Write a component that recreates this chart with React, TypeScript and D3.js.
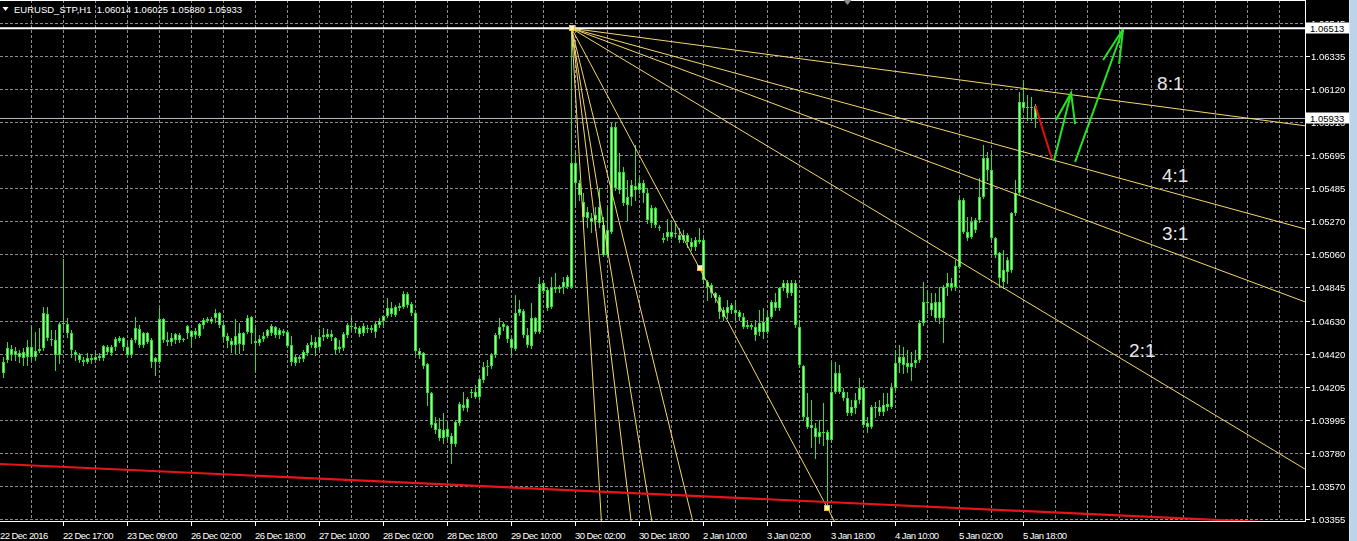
import React from "react";
import * as d3 from "d3";

// ---------- data ----------
const symbolTitle = "EURUSD_STP,H1";

const priceTicks = [
  1.06545, 1.06335, 1.0612, 1.0591, 1.05695, 1.05485, 1.0527, 1.0506,
  1.04845, 1.0463, 1.0442, 1.04205, 1.03995, 1.0378, 1.0357, 1.03355,
];

const timeLabels = [
  "22 Dec 2016", "22 Dec 17:00", "23 Dec 09:00", "26 Dec 02:00", "26 Dec 18:00",
  "27 Dec 10:00", "28 Dec 02:00", "28 Dec 18:00", "29 Dec 10:00", "30 Dec 02:00",
  "30 Dec 18:00", "2 Jan 10:00", "3 Jan 02:00", "3 Jan 18:00", "4 Jan 10:00",
  "5 Jan 02:00", "5 Jan 18:00",
];

// hourly bars: [open, high, low, close]
const bars: number[][] = [
  [1.04292, 1.04399, 1.04271, 1.04367], [1.04378, 1.04496, 1.04367, 1.04453],
  [1.04447, 1.04475, 1.04378, 1.0441], [1.04436, 1.04464, 1.04378, 1.0441],
  [1.04395, 1.04442, 1.04367, 1.04425], [1.04431, 1.04453, 1.04346, 1.04389],
  [1.04395, 1.04507, 1.04346, 1.04464], [1.04464, 1.04603, 1.04378, 1.04399],
  [1.04399, 1.0456, 1.04378, 1.04436], [1.04438, 1.04582, 1.04431, 1.04447],
  [1.04453, 1.04721, 1.04442, 1.04679], [1.04672, 1.04721, 1.04507, 1.04518],
  [1.04511, 1.04571, 1.04475, 1.04507], [1.04507, 1.04571, 1.04314, 1.0441],
  [1.0441, 1.04624, 1.04357, 1.0461], [1.0461, 1.05026, 1.04571, 1.04618],
  [1.0461, 1.04646, 1.04528, 1.0455], [1.0455, 1.04571, 1.04399, 1.04442],
  [1.04431, 1.04442, 1.04378, 1.0441], [1.0441, 1.04421, 1.04367, 1.04378],
  [1.04378, 1.04399, 1.04346, 1.04367], [1.04367, 1.04421, 1.04357, 1.04389],
  [1.04378, 1.0441, 1.04357, 1.04389], [1.04378, 1.04421, 1.04367, 1.04399],
  [1.04389, 1.04421, 1.04378, 1.04404], [1.04389, 1.04475, 1.04378, 1.04468],
  [1.04464, 1.04475, 1.04421, 1.04431], [1.04421, 1.04475, 1.0441, 1.04464],
  [1.04464, 1.04524, 1.04442, 1.04511], [1.04502, 1.04532, 1.04496, 1.04518],
  [1.04518, 1.04528, 1.04442, 1.0446], [1.04464, 1.04485, 1.04399, 1.0441],
  [1.0441, 1.04518, 1.04399, 1.04507], [1.04507, 1.04657, 1.04496, 1.04582],
  [1.04576, 1.04603, 1.04464, 1.04475], [1.04475, 1.0456, 1.04464, 1.0455],
  [1.0455, 1.0456, 1.04485, 1.04496], [1.04507, 1.04518, 1.04335, 1.04367],
  [1.04367, 1.04399, 1.04282, 1.04389], [1.04367, 1.04711, 1.04357, 1.0464],
  [1.0464, 1.04646, 1.04496, 1.04507], [1.04507, 1.0456, 1.04475, 1.04496],
  [1.04496, 1.0455, 1.04475, 1.04518], [1.04507, 1.0455, 1.04485, 1.04545],
  [1.04539, 1.0455, 1.04496, 1.04507], [1.04507, 1.0452, 1.045, 1.04511],
  [1.0455, 1.04603, 1.04518, 1.04597], [1.04565, 1.04571, 1.04464, 1.04528],
  [1.04539, 1.04582, 1.04518, 1.04567], [1.04532, 1.04618, 1.04524, 1.0461],
  [1.04603, 1.04646, 1.04582, 1.04635], [1.04631, 1.04657, 1.04624, 1.0464],
  [1.0464, 1.04657, 1.04614, 1.04624], [1.04646, 1.04704, 1.04624, 1.04679],
  [1.04679, 1.04689, 1.04592, 1.04603], [1.04603, 1.04614, 1.04507, 1.04524],
  [1.04532, 1.0455, 1.04464, 1.04502], [1.04502, 1.04518, 1.04431, 1.04475],
  [1.04475, 1.0464, 1.04421, 1.04532], [1.0455, 1.04614, 1.04421, 1.04481],
  [1.04475, 1.0456, 1.04442, 1.0455], [1.0456, 1.04668, 1.0455, 1.04646],
  [1.04653, 1.04661, 1.04485, 1.04554], [1.04502, 1.04582, 1.04303, 1.04485],
  [1.04485, 1.04539, 1.04475, 1.04511], [1.04511, 1.0456, 1.04502, 1.04532],
  [1.04532, 1.04576, 1.04524, 1.04571], [1.0455, 1.0461, 1.04539, 1.04597],
  [1.04588, 1.04597, 1.04524, 1.04539], [1.04539, 1.04582, 1.04518, 1.04571],
  [1.04567, 1.04576, 1.04539, 1.04554], [1.0456, 1.04571, 1.04464, 1.04468],
  [1.04475, 1.04532, 1.04346, 1.04367], [1.0436, 1.0441, 1.04346, 1.04395],
  [1.04395, 1.0441, 1.04367, 1.04382], [1.04382, 1.04442, 1.04373, 1.04431],
  [1.04421, 1.04485, 1.0441, 1.04475], [1.04475, 1.04539, 1.04464, 1.04496],
  [1.04496, 1.04528, 1.0441, 1.04453], [1.0446, 1.04576, 1.04442, 1.04528],
  [1.04524, 1.04582, 1.04507, 1.04539], [1.04543, 1.04576, 1.04518, 1.04528],
  [1.04528, 1.04571, 1.04507, 1.04543], [1.04518, 1.04528, 1.04421, 1.04442],
  [1.04447, 1.04507, 1.04431, 1.04464], [1.04453, 1.0456, 1.04442, 1.04543],
  [1.04539, 1.04614, 1.04528, 1.04603], [1.04597, 1.04661, 1.04571, 1.04588],
  [1.04588, 1.04614, 1.0456, 1.04576], [1.04584, 1.04597, 1.04532, 1.04545],
  [1.0455, 1.04614, 1.04539, 1.04597], [1.04586, 1.04603, 1.0456, 1.04576],
  [1.04571, 1.04603, 1.0456, 1.04586], [1.0456, 1.04624, 1.04528, 1.0461],
  [1.04603, 1.04646, 1.04592, 1.04631], [1.04631, 1.04668, 1.04588, 1.04661],
  [1.04661, 1.04775, 1.04653, 1.04711], [1.04711, 1.04753, 1.04661, 1.04674],
  [1.04668, 1.04732, 1.04661, 1.04717], [1.04711, 1.04743, 1.047, 1.04726],
  [1.04721, 1.04824, 1.04711, 1.04803], [1.04803, 1.04818, 1.04721, 1.04732],
  [1.04738, 1.04753, 1.04668, 1.04682], [1.04682, 1.04689, 1.04421, 1.04438],
  [1.04438, 1.04453, 1.04389, 1.0441], [1.04425, 1.04431, 1.04325, 1.04339],
  [1.04352, 1.0436, 1.04088, 1.04164], [1.04164, 1.04174, 1.03949, 1.0396],
  [1.03971, 1.04013, 1.03906, 1.03927], [1.03932, 1.04003, 1.03863, 1.03874],
  [1.03874, 1.04035, 1.03842, 1.03927], [1.03932, 1.03981, 1.03863, 1.03884],
  [1.03889, 1.03906, 1.03713, 1.03837], [1.03837, 1.03992, 1.03824, 1.03981],
  [1.03975, 1.0411, 1.0396, 1.04095], [1.04088, 1.04174, 1.04056, 1.04067],
  [1.04067, 1.04142, 1.04052, 1.04125], [1.04168, 1.04189, 1.04142, 1.04174],
  [1.04174, 1.04217, 1.04132, 1.04142], [1.04142, 1.04271, 1.04125, 1.04254],
  [1.04249, 1.04367, 1.04238, 1.04331], [1.04331, 1.04378, 1.04282, 1.04339],
  [1.04339, 1.04421, 1.04325, 1.0441], [1.0441, 1.0455, 1.04399, 1.04539],
  [1.04539, 1.04646, 1.04518, 1.04592], [1.04588, 1.04624, 1.04571, 1.0461],
  [1.04597, 1.04603, 1.04496, 1.04511], [1.04511, 1.04528, 1.04421, 1.04453],
  [1.04447, 1.04796, 1.04442, 1.04682], [1.04682, 1.04764, 1.04668, 1.04704],
  [1.04695, 1.04704, 1.04528, 1.04539], [1.04539, 1.04582, 1.04464, 1.04475],
  [1.04468, 1.04743, 1.04453, 1.04646], [1.04646, 1.04653, 1.0455, 1.0456],
  [1.0456, 1.04914, 1.0455, 1.04867], [1.04872, 1.04893, 1.04807, 1.04824],
  [1.04829, 1.0485, 1.047, 1.04711], [1.04721, 1.04914, 1.04711, 1.0485],
  [1.0485, 1.04936, 1.04818, 1.04833], [1.04833, 1.04861, 1.04818, 1.0485],
  [1.0485, 1.04914, 1.04809, 1.04882], [1.04914, 1.04925, 1.04841, 1.0485],
  [1.0485, 1.06513, 1.04841, 1.05646], [1.05646, 1.05717, 1.05363, 1.05517],
  [1.05517, 1.05537, 1.05408, 1.0544], [1.05395, 1.05453, 1.0526, 1.05298],
  [1.05331, 1.05363, 1.05234, 1.05292], [1.05292, 1.05324, 1.05202, 1.05266],
  [1.05279, 1.05363, 1.05215, 1.05311], [1.05363, 1.05485, 1.05234, 1.0526],
  [1.05247, 1.05298, 1.05047, 1.05054], [1.05054, 1.05363, 1.05047, 1.05215],
  [1.05202, 1.05903, 1.05195, 1.05878], [1.05878, 1.0591, 1.05472, 1.05485],
  [1.05472, 1.0571, 1.05453, 1.05588], [1.05588, 1.0562, 1.05376, 1.05388],
  [1.05376, 1.05537, 1.05279, 1.05427], [1.05427, 1.05537, 1.05376, 1.05504],
  [1.05498, 1.05762, 1.05408, 1.05472], [1.05472, 1.05556, 1.05453, 1.05517],
  [1.05517, 1.05537, 1.05395, 1.05453], [1.05453, 1.05485, 1.0526, 1.05279],
  [1.0526, 1.05376, 1.05234, 1.05356], [1.05356, 1.05363, 1.05234, 1.05247],
  [1.05234, 1.05247, 1.05215, 1.05228], [1.05163, 1.05195, 1.05137, 1.0515],
  [1.0517, 1.05285, 1.0515, 1.05202], [1.05202, 1.05279, 1.05163, 1.0517],
  [1.05189, 1.0526, 1.0517, 1.05195], [1.05183, 1.05228, 1.05137, 1.0515],
  [1.0515, 1.05215, 1.05137, 1.05183], [1.05183, 1.05195, 1.05105, 1.05137],
  [1.05137, 1.05163, 1.05086, 1.05105], [1.05105, 1.0517, 1.05086, 1.0515],
  [1.05137, 1.05228, 1.05131, 1.0515], [1.0515, 1.0517, 1.04874, 1.04893],
  [1.0488, 1.04893, 1.04764, 1.04848], [1.04861, 1.04874, 1.04784, 1.04809],
  [1.04809, 1.04816, 1.04751, 1.04777], [1.04784, 1.04796, 1.04648, 1.04687],
  [1.047, 1.04719, 1.04635, 1.04655], [1.0468, 1.04764, 1.04648, 1.04719],
  [1.047, 1.04745, 1.0468, 1.04732], [1.047, 1.04764, 1.04635, 1.0468],
  [1.04687, 1.047, 1.04635, 1.04655], [1.04655, 1.0468, 1.04584, 1.0459],
  [1.04603, 1.04635, 1.04584, 1.0459], [1.0459, 1.04616, 1.04578, 1.04603],
  [1.0459, 1.04635, 1.04507, 1.04539], [1.04558, 1.047, 1.04539, 1.04616],
  [1.04623, 1.04713, 1.0452, 1.04558], [1.04558, 1.047, 1.04552, 1.04655],
  [1.04655, 1.04764, 1.04648, 1.04751], [1.04751, 1.04809, 1.047, 1.04713],
  [1.04713, 1.04848, 1.047, 1.04841], [1.04841, 1.04893, 1.04829, 1.04874],
  [1.04874, 1.04893, 1.04784, 1.04809], [1.04809, 1.04893, 1.04796, 1.04874],
  [1.04874, 1.04893, 1.0459, 1.04603], [1.0459, 1.04635, 1.04333, 1.04346],
  [1.04339, 1.04346, 1.03992, 1.04011], [1.04011, 1.04166, 1.0394, 1.03947],
  [1.0396, 1.04121, 1.03818, 1.0394], [1.0394, 1.03973, 1.03747, 1.03882],
  [1.03882, 1.03992, 1.03844, 1.03915], [1.03908, 1.04101, 1.03831, 1.03915],
  [1.03915, 1.03927, 1.03419, 1.03863], [1.03863, 1.04365, 1.0385, 1.04172],
  [1.04172, 1.04365, 1.04166, 1.04294], [1.04294, 1.04346, 1.04166, 1.04172],
  [1.04172, 1.04198, 1.04121, 1.04134], [1.04134, 1.04172, 1.04024, 1.04037],
  [1.04037, 1.04121, 1.04024, 1.04075], [1.04069, 1.04166, 1.04037, 1.04121],
  [1.04121, 1.04262, 1.04101, 1.04198], [1.04198, 1.04204, 1.03947, 1.0396],
  [1.03947, 1.04011, 1.03915, 1.03973], [1.03947, 1.04088, 1.0394, 1.04075],
  [1.04069, 1.04108, 1.04011, 1.04075], [1.04075, 1.04121, 1.04024, 1.04043],
  [1.04043, 1.04166, 1.04024, 1.04088], [1.04075, 1.04166, 1.04056, 1.04095],
  [1.04075, 1.0423, 1.04069, 1.04198], [1.04198, 1.04442, 1.04185, 1.04359],
  [1.04359, 1.04475, 1.04301, 1.04397], [1.04397, 1.04462, 1.04294, 1.04346],
  [1.04359, 1.04442, 1.04301, 1.04333], [1.04333, 1.04429, 1.04249, 1.04359],
  [1.04359, 1.04442, 1.04333, 1.04378], [1.04378, 1.04635, 1.04365, 1.04616],
  [1.04616, 1.0488, 1.04603, 1.04751], [1.04751, 1.04829, 1.0468, 1.04745],
  [1.04745, 1.04809, 1.04668, 1.047], [1.04648, 1.04809, 1.04635, 1.04751],
  [1.04751, 1.04848, 1.04616, 1.04648], [1.04648, 1.04861, 1.04494, 1.04848],
  [1.04848, 1.04938, 1.04796, 1.04874], [1.04874, 1.04906, 1.04829, 1.04848],
  [1.04848, 1.05021, 1.04829, 1.04983], [1.04977, 1.05421, 1.0497, 1.05408],
  [1.05408, 1.05421, 1.05195, 1.05202], [1.05202, 1.05298, 1.0515, 1.05163],
  [1.0517, 1.05298, 1.05163, 1.05266], [1.05215, 1.05292, 1.05202, 1.05279],
  [1.05279, 1.05549, 1.05266, 1.05427], [1.05427, 1.05762, 1.05421, 1.05678],
  [1.05678, 1.05717, 1.05537, 1.05601], [1.05601, 1.0571, 1.0515, 1.05163],
  [1.05163, 1.0517, 1.05041, 1.05054], [1.05067, 1.05073, 1.04848, 1.04906],
  [1.0488, 1.05086, 1.04841, 1.04957], [1.04944, 1.05041, 1.04874, 1.05021],
  [1.04957, 1.05331, 1.04944, 1.05324], [1.05324, 1.05537, 1.05311, 1.05453],
  [1.05453, 1.06103, 1.0544, 1.06039], [1.06039, 1.0618, 1.05987, 1.06],
  [1.06, 1.06084, 1.05923, 1.06006], [1.06006, 1.06071, 1.05923, 1.06],
  [1.06014, 1.06025, 1.0588, 1.05933],
];

const highLinePrice = 1.06513;

// Gann fan: origin and 1x1 anchors (bar index, price), fan slopes (price per bar)
const fanAnchors: number[][] = [[142, 1.06513], [174, 1.04969], [206, 1.03425]];
const fanSlopes = [3.42e-5, 7.04e-5, 9.6e-5, 1.547e-4, 4.825e-4, 1.0465e-3, 1.579e-3, 2.128e-3, 4.241e-3];
const fanLabels = ["8:1", "4:1", "3:1", "2:1"];
const fanLabelBars = [288.4, 289.6, 289.6, 281.4];
const fanLabelPrices = [1.06116, 1.05524, 1.05151, 1.04398];

// red support trend line (bar, price)
const redTrend: number[][] = [[0, 1.03708], [240, 1.03424]];

// hand drawn projection strokes (bar, price)
const redStroke: number[][] = [[258, 1.06014], [262.1, 1.05672]];
const greenStrokes: number[][][] = [
  [[262.6, 1.05659], [266.9, 1.06097]],
  [[263.1, 1.05923], [266.9, 1.06097], [267.9, 1.05897]],
  [[267.9, 1.05653], [279.9, 1.06509]],
  [[274.9, 1.06309], [279.9, 1.06509], [278.9, 1.06284]],
];

const shiftMarkerBar = 211;

// ---------- component ----------
export default function App() {
  const W = 1357;
  const H = 541;
  const plotR = 1305;
  const axisY = 521.5;

  const x = d3.scaleLinear().domain([0, bars.length - 1]).range([3.5, 3.5 + 4 * (bars.length - 1)]);
  const y = d3.scaleLinear().domain([1.03355, 1.06335]).range([519, 56]);

  const gridColor = "#8a8a92";
  const wick = "#30e030";
  const bodyFill = "#a4f7a0";
  const fanColor = "#f4d66e";
  const font = "'Liberation Sans', Arial, sans-serif";

  const vGrid: number[] = [];
  for (let i = 7; x(i) < plotR; i += 8) vGrid.push(x(i));

  const line = d3.line<number[]>().x((d) => x(d[0])).y((d) => y(d[1]));

  const [fx, fp] = fanAnchors[0];
  const last = bars[bars.length - 1];
  const title = `${symbolTitle}  ${last.map((v) => v.toFixed(5)).join(" ")}`;

  const rSlope = (redTrend[1][1] - redTrend[0][1]) / (redTrend[1][0] - redTrend[0][0]);
  const redExt = [
    [-2, redTrend[0][1] + rSlope * -2],
    [420, redTrend[0][1] + rSlope * 420],
  ];

  const lastPrice = last[3];
  const boxPrices = [highLinePrice, lastPrice];

  return (
    <svg
      width={W}
      height={H}
      style={{ position: "fixed", left: 0, top: 0, display: "block", background: "#000" }}
    >
      <defs>
        <clipPath id="plot">
          <rect x={0} y={0} width={plotR} height={521} />
        </clipPath>
        <mask id="boxMask">
          <rect x={0} y={0} width={W} height={H} fill="#fff" />
          {boxPrices.map((p, i) => (
            <rect key={i} x={1306} y={Math.round(y(p)) - 5.5} width={43} height={11} fill="#000" />
          ))}
        </mask>
      </defs>
      <rect x={0} y={0} width={W} height={H} fill="#000" />

      {/* grid */}
      <g stroke={gridColor} strokeWidth={1} strokeDasharray="3,2" shapeRendering="crispEdges">
        {vGrid.map((gx, i) => (
          <line key={"v" + i} x1={gx} x2={gx} y1={0} y2={520} />
        ))}
        {priceTicks.map((p, i) => (
          <line key={"h" + i} x1={0} x2={plotR} y1={Math.round(y(p)) + 0.5} y2={Math.round(y(p)) + 0.5} />
        ))}
      </g>

      {/* price lines */}
      <line x1={0} x2={plotR} y1={y(lastPrice)} y2={y(lastPrice)} stroke="#b8b8c0" strokeWidth={1} />
      <line x1={0} x2={plotR} y1={y(highLinePrice)} y2={y(highLinePrice)} stroke="#ffffff" strokeWidth={2} />

      {/* candles */}
      <g clipPath="url(#plot)" shapeRendering="crispEdges">
        {bars.map((b, i) => {
          const [o, h, l, c] = b;
          const cx = x(i);
          const top = Math.round(Math.min(y(o), y(c)));
          const bot = Math.round(Math.max(y(o), y(c)));
          return (
            <g key={i}>
              <line x1={cx} x2={cx} y1={Math.round(y(h))} y2={Math.round(y(l)) + 1} stroke={wick} />
              {bot - top >= 2 ? (
                <rect x={cx - 1} y={top + 0.5} width={2} height={bot - top - 1} fill={bodyFill} stroke={wick} />
              ) : (
                <line x1={cx - 1.5} x2={cx + 1.5} y1={top + 0.5} y2={top + 0.5} stroke={wick} />
              )}
            </g>
          );
        })}
      </g>

      {/* Gann fan */}
      <g clipPath="url(#plot)" stroke={fanColor} strokeWidth={1} fill="none">
        {fanSlopes.map((s, i) => (
          <path key={i} d={line([[fx, fp], [fx + 400, fp - s * 400]]) || ""} />
        ))}
      </g>

      {/* red support line */}
      <g clipPath="url(#plot)">
        <path d={line(redExt) || ""} stroke="#e8141a" strokeWidth={2.2} fill="none" />
      </g>

      {/* anchor markers */}
      {fanAnchors.map((a, i) => (
        <rect
          key={i}
          x={Math.round(x(a[0])) - 2.5}
          y={Math.round(y(a[1])) - 2.5}
          width={5}
          height={5}
          fill="#fff6b8"
          stroke="#e8c04a"
          strokeWidth={1}
        />
      ))}

      {/* projection strokes */}
      <path d={line(redStroke) || ""} stroke="#e01010" strokeWidth={2} fill="none" />
      {greenStrokes.map((s, i) => (
        <path key={i} d={line(s) || ""} stroke="#22e622" strokeWidth={2} fill="none" strokeLinejoin="miter" />
      ))}

      {/* fan labels */}
      {fanLabels.map((t, i) => (
        <text
          key={t}
          x={x(fanLabelBars[i])}
          y={y(fanLabelPrices[i])}
          fill="#e6e6e6"
          fontFamily={font}
          fontSize={19}
        >
          {t}
        </text>
      ))}

      {/* frame */}
      <g stroke="#ffffff" strokeWidth={1} shapeRendering="crispEdges">
        <line x1={0} x2={plotR + 0.5} y1={0.5} y2={0.5} />
        <line x1={plotR + 0.5} x2={plotR + 0.5} y1={0} y2={axisY} />
        <line x1={0} x2={plotR + 0.5} y1={axisY} y2={axisY} />
      </g>

      {/* shift marker */}
      <path
        d={`M${x(shiftMarkerBar) - 4},0 L${x(shiftMarkerBar) + 4},0 L${x(shiftMarkerBar)},5 Z`}
        fill="#8a8a8a"
      />

      {/* title */}
      <path d="M2.5,7 L8.5,7 L5.5,11 Z" fill="#ffffff" />
      <text x={14} y={13} fill="#ffffff" fontFamily={font} fontSize={9.5} style={{ whiteSpace: "pre" }}>
        {title}
      </text>

      {/* price axis */}
      <g fontFamily={font} fontSize={9.5}>
        <g mask="url(#boxMask)">
          {priceTicks.map((p, i) => {
            const py = Math.round(y(p)) + 0.5;
            return (
              <g key={i}>
                <line x1={plotR + 1} x2={plotR + 5} y1={py} y2={py} stroke="#ffffff" shapeRendering="crispEdges" />
                <text x={1311} y={py + 3.5} fill="#ffffff">
                  {p.toFixed(5)}
                </text>
              </g>
            );
          })}
        </g>
        {boxPrices.map((p, i) => {
          const py = y(p);
          return (
            <g key={"box" + i}>
              <rect x={1306} y={Math.round(py) - 5.5} width={43} height={11} fill="#ffffff" />
              <text x={1310} y={Math.round(py) + 3.5} fill="#000000">
                {p.toFixed(5)}
              </text>
            </g>
          );
        })}
      </g>

      {/* time axis */}
      <g fontFamily={font} fontSize={9.5}>
        {timeLabels.map((t, k) => {
          const tx = x(16 * k - 1);
          return (
            <g key={t}>
              <line x1={tx} x2={tx} y1={axisY} y2={axisY + 4} stroke="#ffffff" shapeRendering="crispEdges" />
              <text x={Math.max(0, tx - 0.5)} y={539} fill="#ffffff" letterSpacing={-0.55}>
                {t}
              </text>
            </g>
          );
        })}
      </g>

      {/* window edge */}
      <rect x={1349} y={0} width={8} height={H} fill="#bcd3ea" />
      <line x1={1349.5} x2={1349.5} y1={0} y2={H} stroke="#dce8f4" />
    </svg>
  );
}
